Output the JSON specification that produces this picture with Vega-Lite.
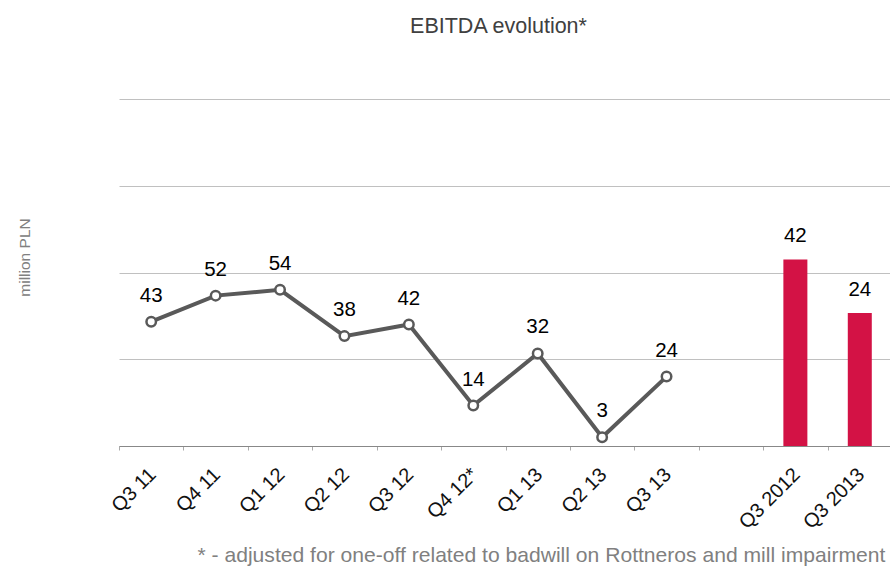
{
  "$schema": "https://vega.github.io/schema/vega-lite/v6.json",
  "width": 773,
  "height": 347,
  "autosize": {"type": "none"},
  "padding": {"left": 119, "top": 99, "right": 0, "bottom": 120},
  "config": {
    "view": {"stroke": null},
    "font": "Liberation Sans"
  },
  "title": {
    "text": "EBITDA evolution*",
    "fontSize": 21.5,
    "fontWeight": "normal",
    "color": "#404040",
    "anchor": "middle",
    "dx": -7,
    "offset": 62
  },
  "data": {
    "values": [
      {"period": "Q3 11", "value": 43, "label": "43", "type": "line"},
      {"period": "Q4 11", "value": 52, "label": "52", "type": "line"},
      {"period": "Q1 12", "value": 54, "label": "54", "type": "line"},
      {"period": "Q2 12", "value": 38, "label": "38", "type": "line"},
      {"period": "Q3 12", "value": 42, "label": "42", "type": "line"},
      {"period": "Q4 12*", "value": 14, "label": "14", "type": "line"},
      {"period": "Q1 13", "value": 32, "label": "32", "type": "line"},
      {"period": "Q2 13", "value": 3, "label": "3", "type": "line"},
      {"period": "Q3 13", "value": 24, "label": "24", "type": "line"},
      {"period": "Q3 2012", "value": 64.5, "label": "42", "type": "bar"},
      {"period": "Q3 2013", "value": 46, "label": "24", "type": "bar"}
    ]
  },
  "encoding": {
    "x": {
      "field": "period",
      "type": "nominal",
      "sort": null,
      "scale": {
        "type": "band",
        "paddingInner": 0,
        "paddingOuter": 0,
        "domain": ["Q3 11", "Q4 11", "Q1 12", "Q2 12", "Q3 12", "Q4 12*", "Q1 13", "Q2 13", "Q3 13", "gap", "Q3 2012", "Q3 2013"]
      },
      "axis": {
        "title": "* - adjusted for one-off related to badwill on Rottneros and mill impairment",
        "titleFontSize": 21.1,
        "titleFontWeight": "normal",
        "titleColor": "#808080",
        "titleAlign": "left",
        "titleBaseline": "alphabetic",
        "titleAnchor": "start",
        "titleX": 78,
        "titleY": 115,
        "labelAngle": -45,
        "labelFontSize": 20,
        "labelColor": "#111111",
        "labelPadding": 14,
        "labelOffset": -6,
        "labelExpr": "datum.value == 'gap' ? '' : datum.label",
        "domainColor": "#888888",
        "tickColor": "#aaaaaa",
        "tickSize": 4,
        "tickBand": "extent",
        "grid": false
      }
    },
    "y": {
      "field": "value",
      "type": "quantitative",
      "scale": {"domain": [0, 120], "nice": false},
      "axis": {
        "values": [0, 30, 60, 90, 120],
        "labels": false,
        "ticks": false,
        "domain": false,
        "grid": true,
        "gridColor": "#c0c0c0",
        "title": "million PLN",
        "titleFontSize": 15.5,
        "titleFontWeight": "normal",
        "titleColor": "#808080",
        "titleX": -95,
        "titleY": 158,
        "titleAlign": "center",
        "titleBaseline": "middle"
      }
    }
  },
  "layer": [
    {
      "transform": [{"filter": "datum.type == 'bar'"}],
      "mark": {"type": "bar", "size": 24, "color": "#D31245"}
    },
    {
      "transform": [{"filter": "datum.type == 'line'"}],
      "mark": {"type": "line", "color": "#595959", "strokeWidth": 4}
    },
    {
      "transform": [{"filter": "datum.type == 'line'"}],
      "mark": {"type": "point", "filled": true, "fill": "#ffffff", "stroke": "#595959", "strokeWidth": 2.5, "size": 90, "opacity": 1}
    },
    {
      "transform": [{"filter": "datum.type == 'line'"}],
      "mark": {"type": "text", "fontSize": 20.5, "color": "#000000", "baseline": "alphabetic", "dy": -20},
      "encoding": {"text": {"field": "label"}}
    },
    {
      "transform": [{"filter": "datum.type == 'bar'"}],
      "mark": {"type": "text", "fontSize": 20.5, "color": "#000000", "baseline": "alphabetic", "dy": -17},
      "encoding": {"text": {"field": "label"}}
    }
  ]
}
